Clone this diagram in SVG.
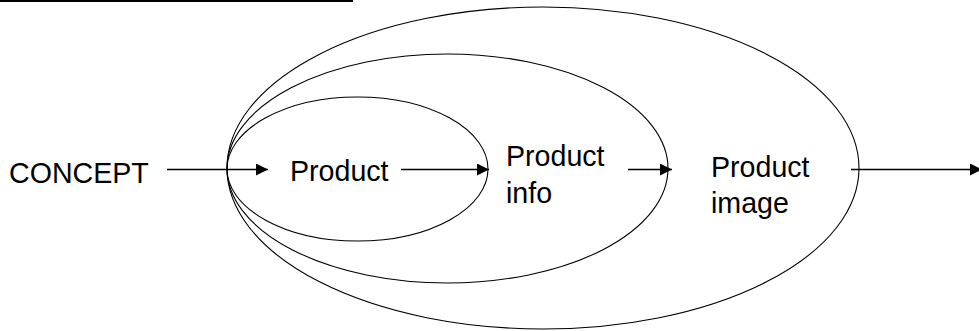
<svg xmlns="http://www.w3.org/2000/svg" width="979" height="331" viewBox="0 0 979 331">
<style>
.ell{fill:none;stroke:#000;stroke-width:1.1}
.lbl{font-family:"Liberation Sans",Arial,sans-serif;font-size:28.6px;fill:#000}
.con{stroke:#000;stroke-width:1.4;fill:none;marker-end:url(#ah)}
</style>
<defs>
<marker id="ah" markerUnits="userSpaceOnUse" markerWidth="12" markerHeight="12" refX="12" refY="6" orient="auto">
<path d="M0,0 L12,6 L0,12 Z" fill="#000"/>
</marker>
</defs>
<rect width="979" height="331" fill="#fff"/>
<line x1="0" y1="1" x2="353" y2="1" stroke="#000" stroke-width="2"/>
<g id="outer">
<ellipse class="ell" cx="543" cy="168" rx="316" ry="161"/>
<text class="lbl" x="711" y="177">Product</text>
<text class="lbl" x="711" y="213">image</text>
</g>
<g id="middle">
<ellipse class="ell" cx="447.5" cy="168.5" rx="220.5" ry="114.5"/>
<text class="lbl" x="506" y="166">Product</text>
<text class="lbl" x="506" y="203">info</text>
</g>
<g id="inner">
<ellipse class="ell" cx="357.5" cy="169" rx="130.5" ry="72"/>
<text class="lbl" x="290" y="181">Product</text>
</g>
<g id="concept">
<text class="lbl" x="9" y="183">CONCEPT</text>
</g>
<g id="connectors">
<line class="con" x1="167" y1="169.5" x2="268" y2="169.5"/>
<line class="con" x1="401" y1="169.5" x2="489" y2="169.5"/>
<line class="con" x1="628" y1="169.5" x2="672" y2="169.5"/>
<line class="con" x1="851" y1="169.5" x2="982" y2="169.5"/>
</g>
</svg>
